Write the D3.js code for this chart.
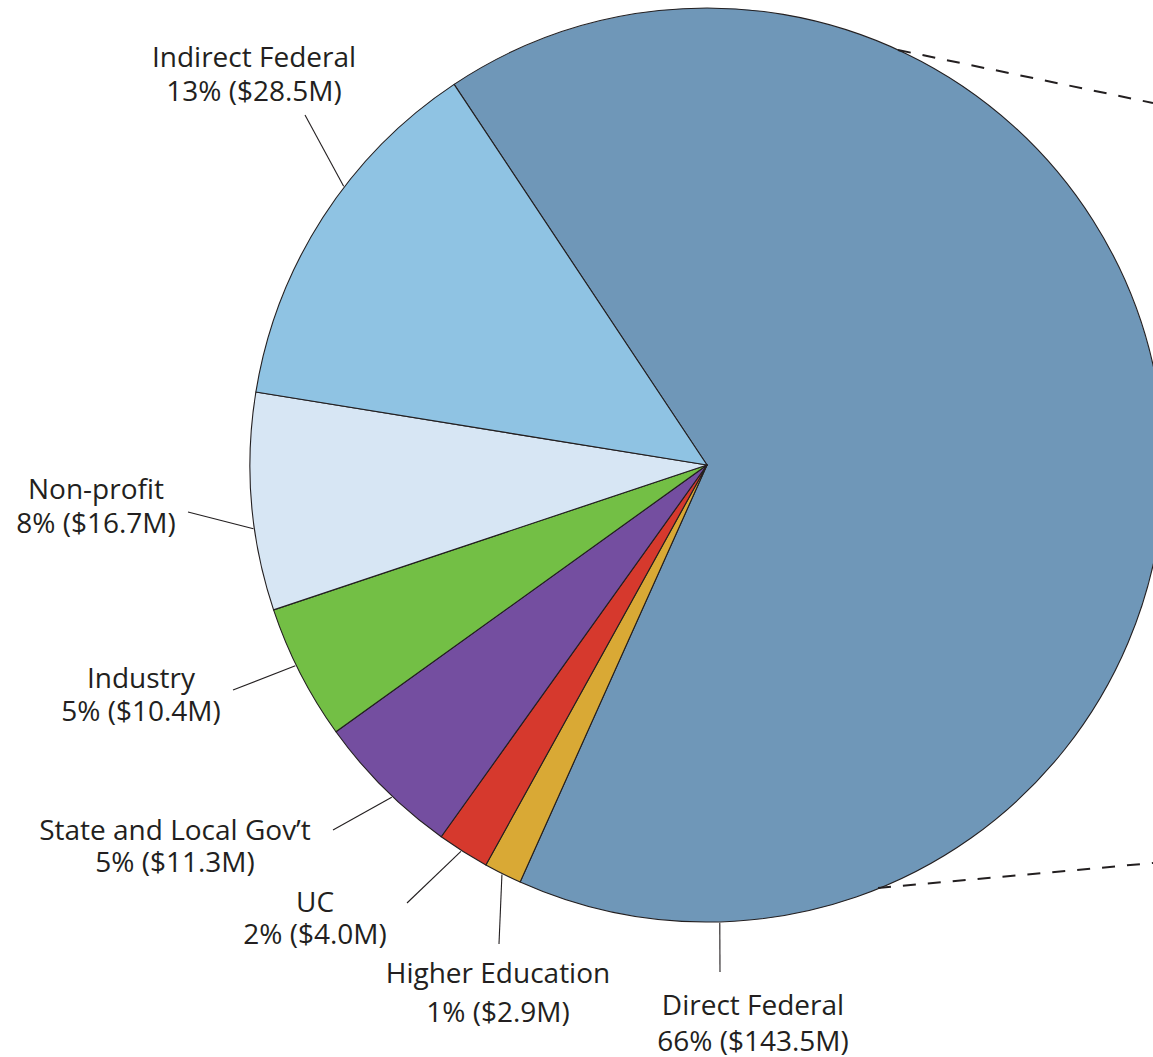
<!DOCTYPE html>
<html><head><meta charset="utf-8">
<script src="https://cdn.jsdelivr.net/npm/d3@7"></script>
<style>html,body{margin:0;padding:0;background:#fff;overflow:hidden}</style>
</head><body>
<svg id="c" width="1153" height="1057"></svg>
<script>
// Data
const categories = ["Direct Federal","Higher Education","UC","State and Local Gov\u2019t","Industry","Non-profit","Indirect Federal"];
const values = [143.5, 2.9, 4.0, 11.3, 10.4, 16.7, 28.5];
const percents = ["66%","1%","2%","5%","5%","8%","13%"];
const colors = ["#6f97b8","#d9a935","#d6392d","#744ea0","#73bf45","#d7e6f4","#8fc3e3"];

// Layout
const cx = 707, cy = 465, R = 457;
const startDeg = -33.6;
const labelLayout = [
  {x:753, y:1015, dy:36, ang:178.4, out:[720,972]},
  {x:498, y:983, dy:39, ang:206.6, out:[499,944]},
  {x:315, y:912, dy:32, ang:212.5, out:[407,903]},
  {x:175, y:840, dy:32, ang:223.5, out:[333,830]},
  {x:141, y:688, dy:33, ang:244.0, out:[233,690]},
  {x:96,  y:499, dy:34, ang:262.0, out:[188,512]},
  {x:254, y:67,  dy:34, ang:307.5, out:[305,115]}
];

const svg = d3.select("#c");
const g = svg.append("g").attr("transform",`translate(${cx},${cy})`);
const pie = d3.pie().sort(null).value(d=>d)
  .startAngle(startDeg*Math.PI/180).endAngle(startDeg*Math.PI/180 + 2*Math.PI);
const arcs = pie(values);
const arc = d3.arc().innerRadius(0).outerRadius(R);

g.selectAll("path.slice").data(arcs).join("path")
  .attr("class","slice")
  .attr("d",arc)
  .attr("fill",(d,i)=>colors[i])
  .attr("stroke","#231f20").attr("stroke-width",1.1).attr("stroke-linejoin","round");

// dashed lines from the rim of Direct Federal outward
const dashLines = [
  {from:[898,50], to:[1153,103]},
  {from:[878,888], to:[1153,863]}
];
svg.selectAll("line.dash").data(dashLines).join("line")
  .attr("x1",d=>d.from[0]).attr("y1",d=>d.from[1])
  .attr("x2",d=>d.to[0]).attr("y2",d=>d.to[1])
  .attr("stroke","#231f20").attr("stroke-width",2).attr("stroke-dasharray","13,12");

// leader lines + labels
labelLayout.forEach((L,i)=>{
  const a = L.ang*Math.PI/180;
  const px = cx + Math.sin(a)*(R+1), py = cy - Math.cos(a)*(R+1);
  svg.append("line").attr("x1",px).attr("y1",py).attr("x2",L.out[0]).attr("y2",L.out[1])
    .attr("stroke","#231f20").attr("stroke-width",1.1);
  const t = svg.append("text").attr("text-anchor","middle")
    .attr("font-family","'Open Sans', sans-serif").attr("font-size",28).attr("fill","#231f20");
  t.append("tspan").attr("x",L.x).attr("y",L.y).text(categories[i]);
  t.append("tspan").attr("x",L.x).attr("y",L.y+L.dy).text(`${percents[i]} ($${values[i].toFixed(1)}M)`);
});
</script>
</body></html>
